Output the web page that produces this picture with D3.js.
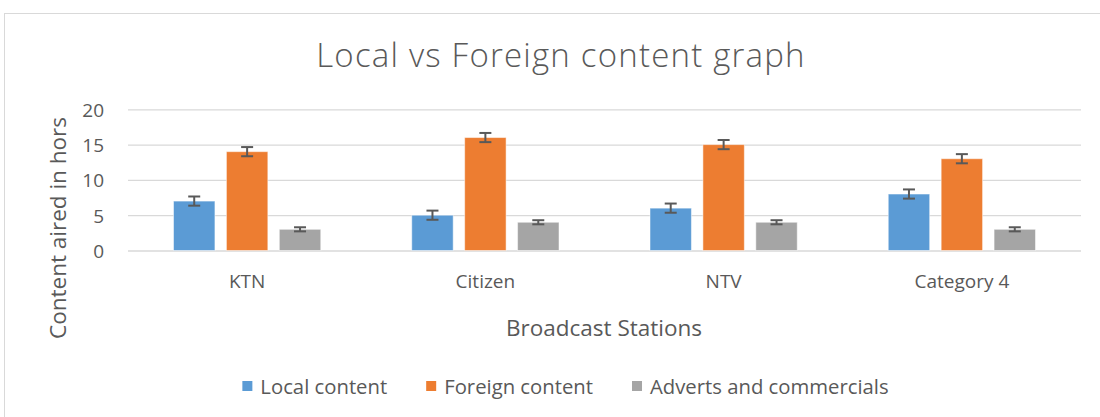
<!DOCTYPE html>
<html>
<head>
<meta charset="utf-8">
<script src="https://cdn.jsdelivr.net/npm/d3@7"></script>
<style>
  html, body { margin: 0; padding: 0; background: #fff; }
  svg { display: block; font-family: "Open Sans", Lato, sans-serif; }
</style>
</head>
<body>
<svg id="chart" width="1100" height="417"></svg>
<script>
const categories = ["KTN", "Citizen", "NTV", "Category 4"];
const seriesNames = ["Local content", "Foreign content", "Adverts and commercials"];
const localContent = [7, 5, 6, 8];
const foreignContent = [14, 16, 15, 13];
const adverts = [3, 4, 4, 3];
const seriesErrors = [0.65, 0.65, 0.29];   // standard-error bars per series
const yTicks = [0, 5, 10, 15, 20];
const colors = ["#5B9BD5", "#ED7D31", "#A5A5A5"];
const titleText = "Local vs Foreign content graph";
const yTitle = "Content aired in hors";
const xTitle = "Broadcast Stations";

const seriesValues = [localContent, foreignContent, adverts];
const textColor = "#595959";
const font = "'Open Sans', Lato, sans-serif";

const svg = d3.select("#chart");

// chart border
svg.append("rect")
  .attr("x", 4.5).attr("y", 13.5)
  .attr("width", 1120).attr("height", 430)
  .attr("fill", "#fff").attr("stroke", "#D9D9D9").attr("stroke-width", 1);

const plot = { left: 128, right: 1081, top: 109.3, bottom: 250.5 };

const x0 = d3.scaleBand().domain(categories).range([plot.left, plot.right]).paddingInner(0).paddingOuter(0);
const x1 = d3.scaleBand().domain(seriesNames).range([0, x0.bandwidth()]).paddingInner(0.217).paddingOuter(0.86);
const y = d3.scaleLinear().domain([0, 20]).range([plot.bottom, plot.top]);

// gridlines + y tick labels
const yAxis = d3.axisLeft(y).tickValues(yTicks).tickSize(-(plot.right - plot.left)).tickPadding(24);
const gy = svg.append("g").attr("transform", `translate(${plot.left},0)`).call(yAxis);
gy.select(".domain").remove();
gy.selectAll(".tick line").attr("stroke", "#D9D9D9").attr("stroke-width", 1.3);
gy.selectAll(".tick text")
  .attr("fill", textColor).attr("font-size", 19).attr("font-family", font)
  .attr("dy", "0.36em");

// bars
const groups = svg.append("g").selectAll("g")
  .data(categories)
  .join("g")
  .attr("transform", d => `translate(${x0(d)},0)`);

seriesNames.forEach((s, si) => {
  groups.append("rect")
    .attr("x", x1(s))
    .attr("y", (d, ci) => y(seriesValues[si][ci]))
    .attr("width", x1.bandwidth())
    .attr("height", (d, ci) => y(0) - y(seriesValues[si][ci]))
    .attr("fill", colors[si])
    .attr("stroke", "rgba(255,255,255,0.5)")
    .attr("stroke-width", 1);
});

// error bars
const capHalf = 6;
seriesNames.forEach((s, si) => {
  const cx = x1(s) + x1.bandwidth() / 2;
  const eb = groups.append("g").attr("stroke", "#595959").attr("stroke-width", 2).attr("fill", "none");
  eb.append("line")
    .attr("x1", cx).attr("x2", cx)
    .attr("y1", (d, ci) => y(seriesValues[si][ci] + seriesErrors[si]))
    .attr("y2", (d, ci) => y(seriesValues[si][ci] - seriesErrors[si]));
  eb.append("line")
    .attr("x1", cx - capHalf).attr("x2", cx + capHalf)
    .attr("y1", (d, ci) => y(seriesValues[si][ci] + seriesErrors[si]))
    .attr("y2", (d, ci) => y(seriesValues[si][ci] + seriesErrors[si]));
  eb.append("line")
    .attr("x1", cx - capHalf).attr("x2", cx + capHalf)
    .attr("y1", (d, ci) => y(seriesValues[si][ci] - seriesErrors[si]))
    .attr("y2", (d, ci) => y(seriesValues[si][ci] - seriesErrors[si]));
});

// category labels
const xAxis = d3.axisBottom(x0).tickSize(0).tickPadding(0);
const gx = svg.append("g").attr("transform", `translate(0,${plot.bottom})`).call(xAxis);
gx.select(".domain").remove();
gx.selectAll(".tick text")
  .attr("fill", textColor).attr("font-size", 19).attr("font-family", font)
  .attr("dy", null).attr("y", 37);

// title
svg.append("text")
  .attr("x", 561).attr("y", 67)
  .attr("text-anchor", "middle")
  .attr("fill", textColor)
  .attr("font-size", 33).attr("font-weight", 300)
  .attr("letter-spacing", 1.2)
  .text(titleText);

// axis titles
svg.append("text")
  .attr("transform", "translate(66,228) rotate(-90)")
  .attr("text-anchor", "middle")
  .attr("fill", textColor).attr("font-size", 22.5)
  .text(yTitle);

svg.append("text")
  .attr("x", 604).attr("y", 336)
  .attr("text-anchor", "middle")
  .attr("fill", textColor).attr("font-size", 22.5)
  .text(xTitle);

// legend
const legend = svg.append("g");
const items = legend.selectAll("g").data(seriesNames).join("g");
items.append("rect").attr("width", 10).attr("height", 10).attr("y", -13)
  .attr("fill", (d, i) => colors[i]);
items.append("text").attr("x", 18).attr("y", 0)
  .attr("fill", textColor).attr("font-size", 20.3)
  .text(d => d);
const widths = [];
items.each(function() {
  widths.push(18 + d3.select(this).select("text").node().getComputedTextLength());
});
const gap = 39;
const total = d3.sum(widths) + gap * (widths.length - 1);
let start = 565.5 - total / 2;
items.attr("transform", (d, i) => {
  const t = `translate(${start},394)`;
  start += widths[i] + gap;
  return t;
});
</script>
</body>
</html>
